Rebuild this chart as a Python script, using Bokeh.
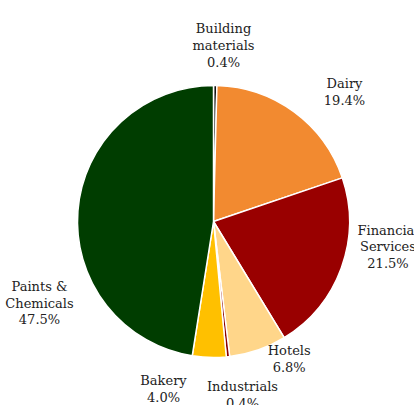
import math
from bokeh.plotting import figure
from bokeh.models import Range1d, ColumnDataSource
from bokeh.core.properties import value
from bokeh.embed import file_html
from bokeh.resources import INLINE

# ---- data ----
categories = ["Building\nmaterials", "Dairy", "Financial\nServices", "Hotels",
              "Industrials", "Bakery", "Paints &\nChemicals"]
shares = [0.4, 19.4, 21.5, 6.8, 0.4, 4.0, 47.5]
colors = ["#111111", "#F28A30", "#990000", "#FFD68A", "#8B0000", "#FFC000", "#003D00"]

# label placement (offset from pie centre, pixels)
label_dx = [10, 131, 174.5, 75.7, 29, -50, -174]
label_dy = [176.3, 129.7, -25.4, -137.3, -173.2, -167.3, -81.6]

# ---- geometry ----
W, H = 414, 405
cx, cy = 213, 221          # pie centre in canvas px (from top-left)
R = 136
LH = 16.8                  # label line height, px

total = sum(shares)
starts, ends = [], []
acc = 0.0
for s in shares:
    a0 = math.pi / 2 - 2 * math.pi * acc / total
    acc += s
    a1 = math.pi / 2 - 2 * math.pi * acc / total
    starts.append(a0)
    ends.append(a1)

src = ColumnDataSource(dict(start=starts, end=ends, color=colors))

p = figure(width=W, height=H, output_backend="svg", toolbar_location=None,
           x_range=Range1d(-cx, W - cx), y_range=Range1d(-(H - cy), cy),
           min_border=0)
p.axis.visible = False
p.grid.visible = False
p.outline_line_color = None
p.background_fill_color = "white"
p.border_fill_color = "white"

p.wedge(x=0, y=0, radius=R, start_angle="start", end_angle="end",
        direction="clock", fill_color="color", line_color="white",
        line_width=1.5, source=src)

lx, ly, lt = [], [], []
for c, s, dx, dy in zip(categories, shares, label_dx, label_dy):
    lines = c.split("\n") + [f"{s:.1f}%"]
    n = len(lines)
    for i, t in enumerate(lines):
        lx.append(dx)
        ly.append(dy + (n - 1) / 2 * LH - i * LH)
        lt.append(t)

p.text(x=lx, y=ly, text=lt, text_align="center",
       text_baseline="middle",
       text_font=value("DejaVu Serif"),
       text_font_size="13px", text_color="#222222")

open("out.html", "w").write(file_html(p, INLINE))
